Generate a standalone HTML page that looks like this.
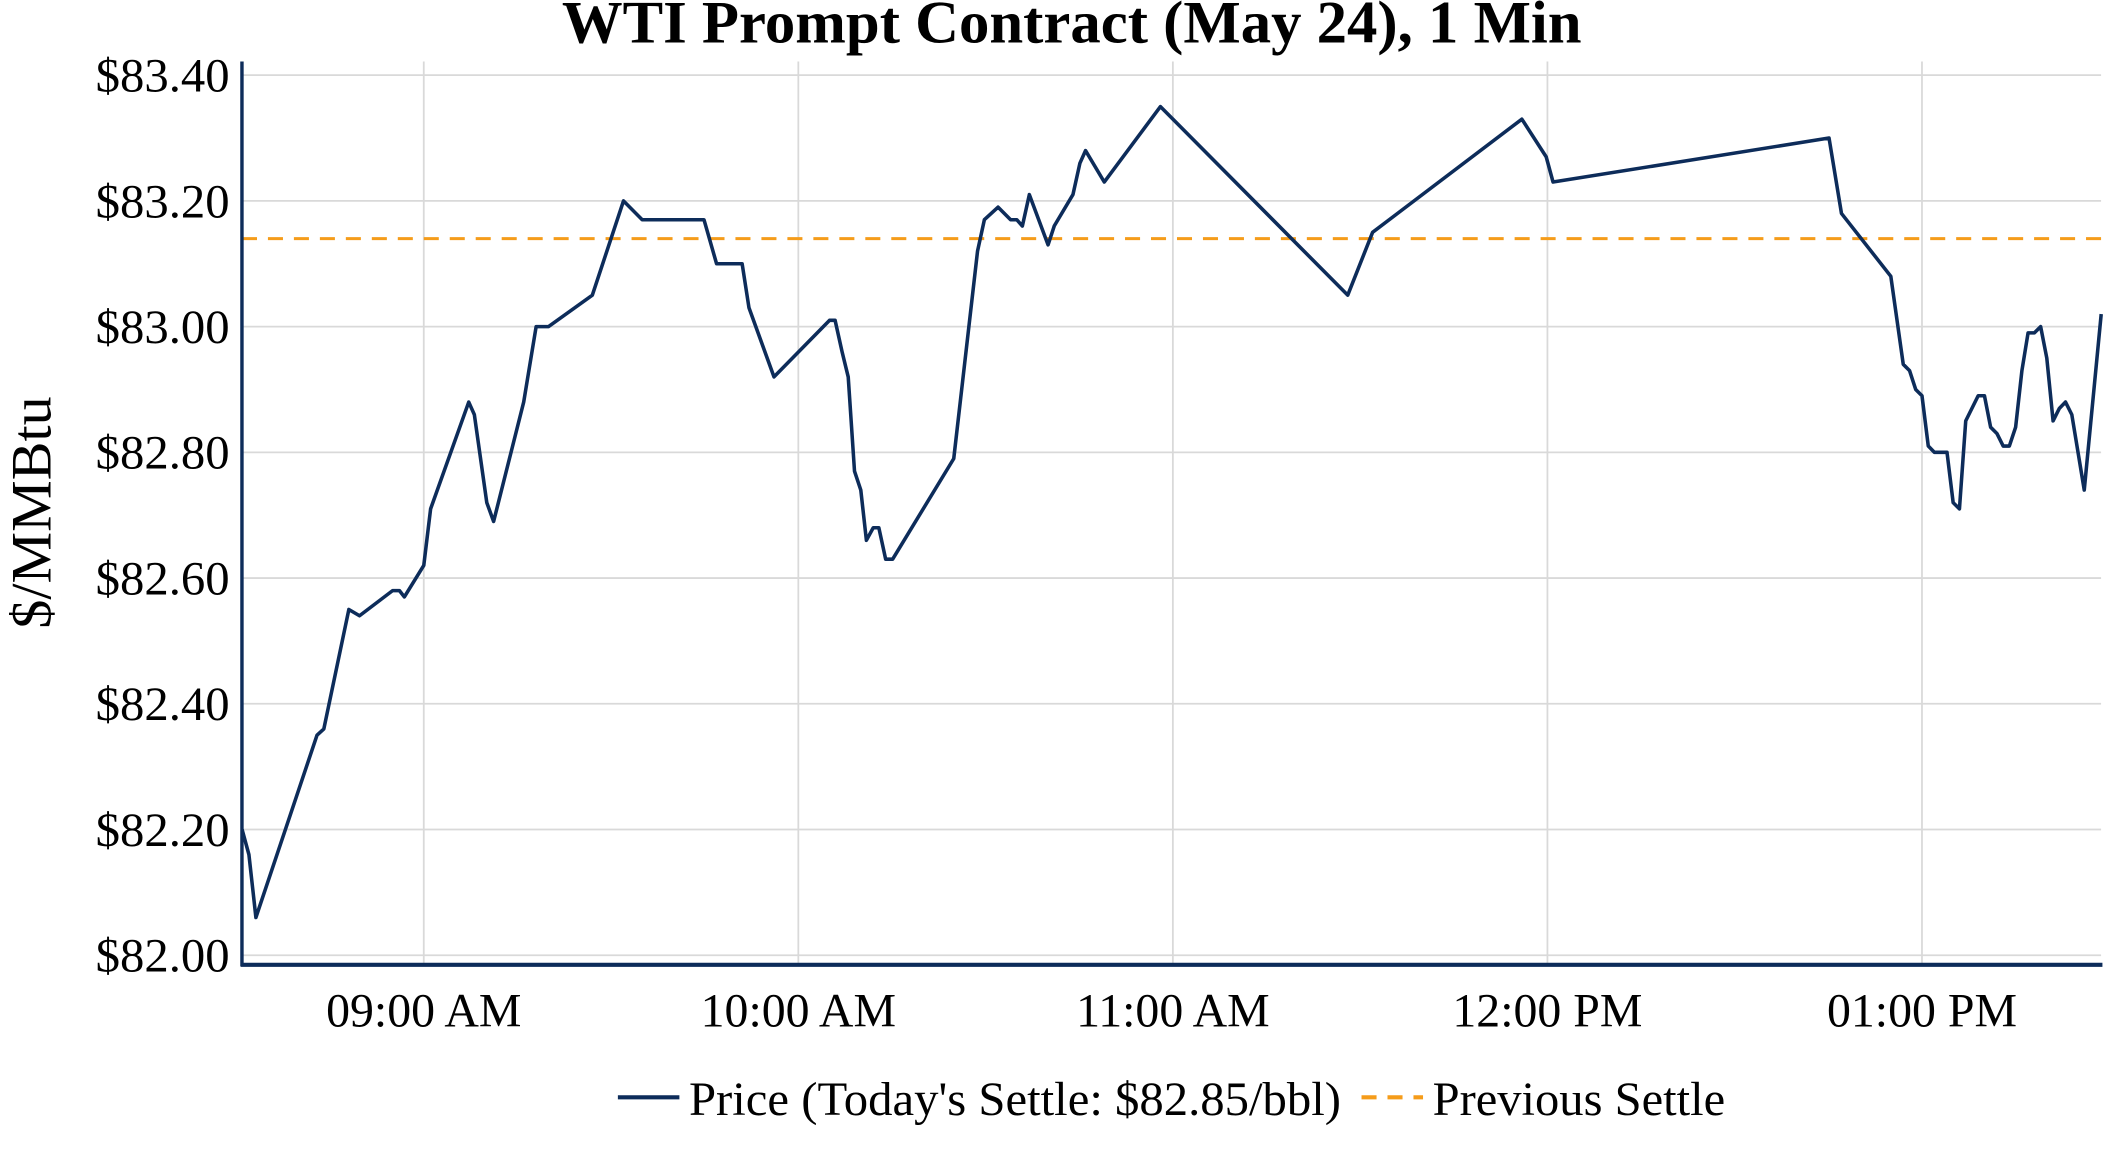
<!DOCTYPE html>
<html><head><meta charset="utf-8"><style>
html,body{margin:0;padding:0;background:#fff;}
svg{display:block;font-family:"Liberation Serif",serif;}
</style></head><body>
<svg id="chart" width="2112" height="1152" viewBox="0 0 1545 843" preserveAspectRatio="none" xmlns="http://www.w3.org/2000/svg">
<text x="784" y="31" text-anchor="middle" font-size="44" font-weight="bold" fill="#000" textLength="746" lengthAdjust="spacingAndGlyphs">WTI Prompt Contract (May 24), 1 Min</text>
<g id="grid"></g>
<g id="yticks"></g>
<g id="xticks"></g>
<text transform="translate(37,375) rotate(-90)" text-anchor="middle" font-size="42" fill="#000" textLength="170" lengthAdjust="spacingAndGlyphs">$/MMBtu</text>
<g id="series"></g>
<line x1="177" y1="45" x2="177" y2="707" stroke="#0d2c5a" stroke-width="2.5"/>
<line x1="176" y1="706" x2="1538" y2="706" stroke="#0d2c5a" stroke-width="3"/>
<g>
<line x1="452" y1="803" x2="497" y2="803" stroke="#0d2c5a" stroke-width="3"/>
<text x="504" y="816" font-size="35" fill="#000" textLength="477" lengthAdjust="spacingAndGlyphs">Price (Today's Settle: $82.85/bbl)</text>
<line x1="996" y1="803" x2="1041" y2="803" stroke="#f59c1a" stroke-width="3" stroke-dasharray="11,8"/>
<text x="1048" y="816" font-size="35" fill="#000" textLength="214" lengthAdjust="spacingAndGlyphs">Previous Settle</text>
</g>
</svg>
<script>
const minutes = [-29.1,-28,-26.9,-17.1,-16,-12,-10.3,-5,-3.9,-3.1,0,1.1,7.2,8.1,10.1,11.2,16,18,20,27,32,35,44.9,46.9,51,52.1,56.1,65,65.9,67,68,69,70,70.9,72,72.9,74,75.1,84.9,88.7,89.8,92,94,95,95.9,97,100,101,104,105.1,106,109,118,148,152,175.9,179.8,180.9,225.1,227.1,235,237,238,239,240,241,242,244,245,246,247,249,250,251,252,253,254,255,256,257,258,259,260,261,262,263,264,266,268.7];
const prices = [82.20,82.16,82.06,82.35,82.36,82.55,82.54,82.58,82.58,82.57,82.62,82.71,82.88,82.86,82.72,82.69,82.88,83.00,83.00,83.05,83.20,83.17,83.17,83.10,83.10,83.03,82.92,83.01,83.01,82.96,82.92,82.77,82.74,82.66,82.68,82.68,82.63,82.63,82.79,83.12,83.17,83.19,83.17,83.17,83.16,83.21,83.13,83.16,83.21,83.26,83.28,83.23,83.35,83.05,83.15,83.33,83.27,83.23,83.30,83.18,83.08,82.94,82.93,82.90,82.89,82.81,82.80,82.80,82.72,82.71,82.85,82.89,82.89,82.84,82.83,82.81,82.81,82.84,82.93,82.99,82.99,83.00,82.95,82.85,82.87,82.88,82.86,82.74,83.02];
const previousSettle = [83.14];
const yTicks = [82.00,82.20,82.40,82.60,82.80,83.00,83.20,83.40];
const xTickMinutes = [0,60,120,180,240];
const xTickLabels = ["09:00 AM","10:00 AM","11:00 AM","12:00 PM","01:00 PM"];

const NS="http://www.w3.org/2000/svg";
const L=177,R=1537;
function xs(m){return 310+m*274/60;}
function ys(p){return 699-(p-82.0)/1.4*644;}
function mk(tag,attrs,parent){const e=document.createElementNS(NS,tag);for(const k in attrs)e.setAttribute(k,attrs[k]);parent.appendChild(e);return e;}
const grid=document.getElementById('grid'),yt=document.getElementById('yticks'),xt=document.getElementById('xticks'),ser=document.getElementById('series');
yTicks.forEach(v=>{
  const g=mk('line',{x1:L,x2:R,y1:ys(v),y2:ys(v),stroke:'#d9d9d9','stroke-width':1.3},grid);
  
  
  const t=mk('text',{x:168,y:ys(v)+12,'text-anchor':'end','font-size':35,fill:'#000',textLength:98,lengthAdjust:'spacingAndGlyphs'},yt);
  t.textContent='$'+v.toFixed(2);
  
  
});
xTickMinutes.forEach((m,i)=>{
  const g=mk('line',{x1:xs(m),x2:xs(m),y1:45,y2:706,stroke:'#d9d9d9','stroke-width':1.3},grid);
  
  
  const t=mk('text',{x:xs(m),y:751,'text-anchor':'middle','font-size':35,fill:'#000'},xt);
  t.textContent=xTickLabels[i];
  
  
});
const s=mk('line',{x1:L,x2:R,y1:ys(previousSettle[0]),y2:ys(previousSettle[0]),stroke:'#f59c1a','stroke-width':2.2,'stroke-dasharray':'11,8'},ser);


const pts=minutes.map((m,i)=>xs(m).toFixed(1)+','+ys(prices[i]).toFixed(1)).join(' ');
const p=mk('polyline',{points:pts,fill:'none',stroke:'#0d2c5a','stroke-width':2.6,'stroke-linejoin':'round'},ser);


</script>
</body></html>
